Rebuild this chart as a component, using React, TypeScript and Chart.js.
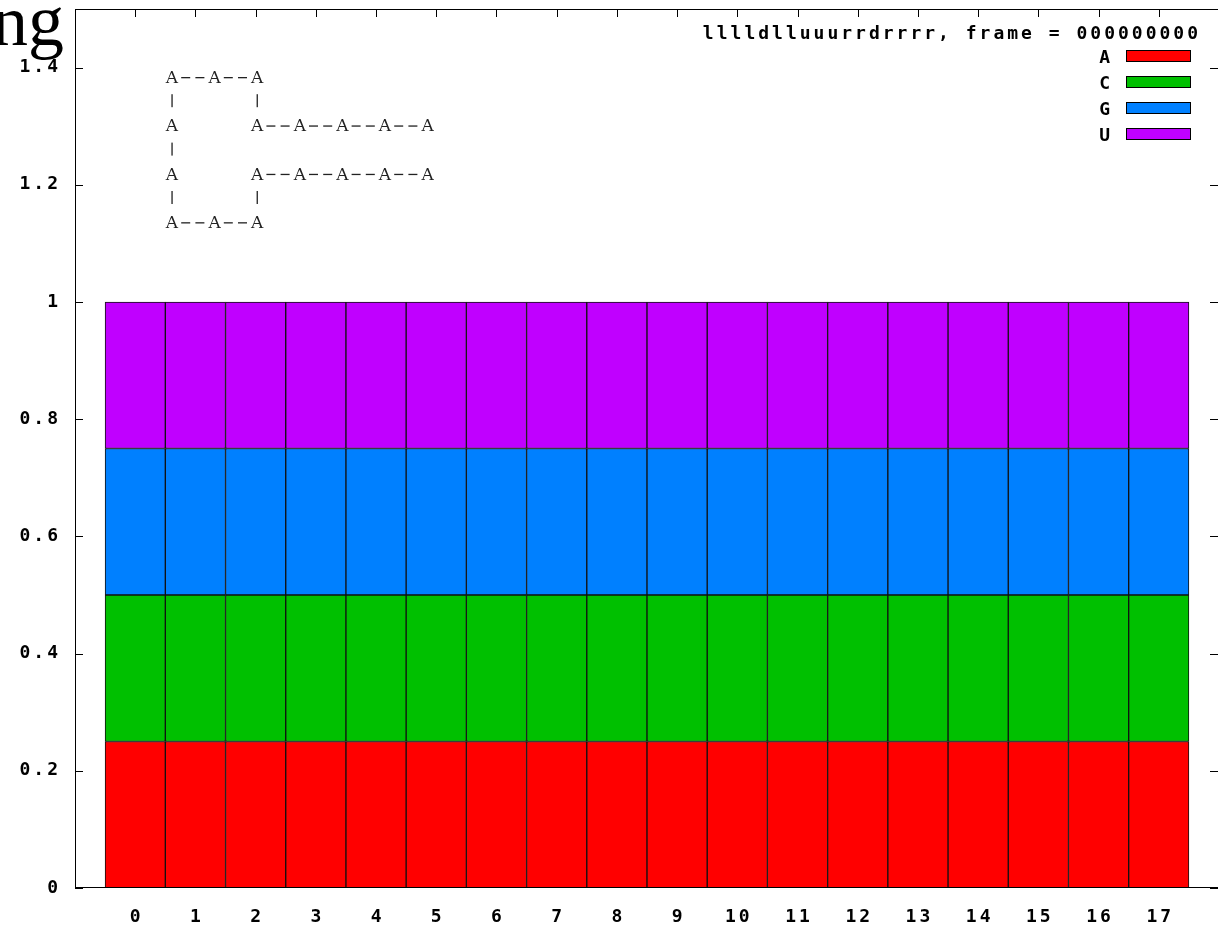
import { useEffect, useRef } from 'react';
import { Chart, registerables } from 'chart.js';

Chart.register(...registerables);

// ---- data ----
const positions = [0, 1, 2, 3, 4, 5, 6, 7, 8, 9, 10, 11, 12, 13, 14, 15, 16, 17];
const seriesNames = ['A', 'C', 'G', 'U'];
const valuesA = [0.25, 0.25, 0.25, 0.25, 0.25, 0.25, 0.25, 0.25, 0.25, 0.25, 0.25, 0.25, 0.25, 0.25, 0.25, 0.25, 0.25, 0.25];
const valuesC = [0.25, 0.25, 0.25, 0.25, 0.25, 0.25, 0.25, 0.25, 0.25, 0.25, 0.25, 0.25, 0.25, 0.25, 0.25, 0.25, 0.25, 0.25];
const valuesG = [0.25, 0.25, 0.25, 0.25, 0.25, 0.25, 0.25, 0.25, 0.25, 0.25, 0.25, 0.25, 0.25, 0.25, 0.25, 0.25, 0.25, 0.25];
const valuesU = [0.25, 0.25, 0.25, 0.25, 0.25, 0.25, 0.25, 0.25, 0.25, 0.25, 0.25, 0.25, 0.25, 0.25, 0.25, 0.25, 0.25, 0.25];
const seriesColors = ['#ff0000', '#00c000', '#0080ff', '#c000ff'];
const yTickValues = [0, 0.2, 0.4, 0.6, 0.8, 1, 1.2, 1.4];
const xRange = [-1, 18];
const yRange = [0, 1.5];
const legendTitle = 'lllldlluuurrdrrrr, frame = 000000000';
const structureLines = [
  'A--A--A',
  '|     |',
  'A     A--A--A--A--A',
  '|',
  'A     A--A--A--A--A',
  '|     |',
  'A--A--A',
];
const headerText = 'ng';

const seriesValues = [valuesA, valuesC, valuesG, valuesU];

const MONO = '"DejaVu Sans Mono", monospace';
const SPACING = 3;

const gnuplotPlugin = {
  id: 'gnuplotLook',
  beforeDraw(chart: any) {
    (chart.ctx as any).letterSpacing = SPACING + 'px';
  },
  beforeDatasetsDraw(chart: any) {
    const ctx = chart.ctx as CanvasRenderingContext2D;
    const { left, right, top, bottom } = chart.chartArea;
    const xs = chart.scales.x;
    const ys = chart.scales.y;
    ctx.save();
    ctx.strokeStyle = '#000';
    ctx.lineWidth = 1;
    ctx.beginPath();
    for (const v of yTickValues) {
      const y = Math.round(ys.getPixelForValue(v)) + 0.5;
      ctx.moveTo(left, y);
      ctx.lineTo(left + 8, y);
      ctx.moveTo(right - 9, y);
      ctx.lineTo(right, y);
    }
    for (const p of positions) {
      const x = Math.round(xs.getPixelForValue(p)) + 0.5;
      ctx.moveTo(x, top);
      ctx.lineTo(x, top + 8);
      ctx.moveTo(x, bottom - 8);
      ctx.lineTo(x, bottom);
    }
    ctx.stroke();
    ctx.restore();
  },
  afterDraw(chart: any) {
    const ctx = chart.ctx as any;
    const { left, right, top, bottom } = chart.chartArea;
    ctx.save();
    // frame
    ctx.strokeStyle = '#000';
    ctx.lineWidth = 1;
    ctx.strokeRect(left + 0.5, top + 0.5, right - left - 1, bottom - top - 1);

    // structure annotation
    ctx.letterSpacing = '0px';
    ctx.fillStyle = '#222';
    ctx.textAlign = 'center';
    ctx.textBaseline = 'alphabetic';
    const colW = 14.2;
    const rowH = 24.2;
    const x0 = left + 97;
    const y0 = top + 74;
    structureLines.forEach((line, r) => {
      for (let c = 0; c < line.length; c++) {
        const ch = line[c];
        if (ch === ' ') continue;
        if (ch === 'A') {
          ctx.font = '17px "DejaVu Serif", serif';
          ctx.fillText(ch, x0 + c * colW, y0 + r * rowH);
        } else if (ch === '-') {
          ctx.fillRect(x0 + c * colW - 5, y0 + r * rowH - 6, 9, 1.3);
        } else {
          ctx.fillRect(x0 + c * colW - 0.6, y0 + r * rowH - 13, 1.3, 13);
        }
      }
    });

    // legend
    const legendRight = 1218;
    ctx.letterSpacing = SPACING + 'px';
    ctx.font = 'bold 18px ' + MONO;
    ctx.fillStyle = '#000';
    ctx.textAlign = 'right';
    ctx.textBaseline = 'alphabetic';
    ctx.fillText(legendTitle, legendRight - 20 + SPACING, top + 30);
    seriesNames.forEach((name, i) => {
      const cy = top + 47 + i * 26;
      ctx.fillText(name, legendRight - 108 + SPACING, cy + 7);
      ctx.fillStyle = seriesColors[i];
      ctx.fillRect(legendRight - 92, cy - 6, 65, 12);
      ctx.strokeStyle = '#000';
      ctx.lineWidth = 1;
      ctx.strokeRect(legendRight - 92 + 0.5, cy - 6 + 0.5, 64, 11);
      ctx.fillStyle = '#000';
    });

    // header text fragment
    ctx.letterSpacing = '0px';
    ctx.font = '72px "Liberation Serif", serif';
    ctx.textAlign = 'left';
    ctx.fillStyle = '#000';
    ctx.fillText(headerText, -8, 45);
    ctx.restore();
  },
};

export default function App() {
  const ref = useRef<HTMLCanvasElement | null>(null);
  useEffect(() => {
    if (!ref.current) return;
    const tickFont = { family: MONO, weight: 'bold' as const, size: 18 };
    const chart = new Chart(ref.current, {
      type: 'bar',
      data: {
        datasets: seriesNames.map((name, i) => ({
          label: name,
          data: positions.map((p, j) => ({ x: p, y: seriesValues[i][j] })),
          backgroundColor: seriesColors[i],
          borderColor: '#111',
          borderWidth: 1,
          borderSkipped: false,
          barPercentage: 1,
          categoryPercentage: 1,
        })),
      },
      options: {
        responsive: false,
        animation: false,
        layout: { padding: { top: 9, right: 1, left: 0, bottom: 0 } },
        plugins: { legend: { display: false }, tooltip: { enabled: false } },
        scales: {
          x: {
            type: 'linear',
            min: xRange[0],
            max: xRange[1],
            stacked: true,
            offset: false,
            afterBuildTicks: (s: any) => {
              s.ticks = positions.map((v) => ({ value: v }));
            },
            afterFit: (s: any) => {
              s.height = 38;
              s.paddingLeft = 0;
              s.paddingRight = 0;
            },
            grid: { display: false, drawTicks: false },
            border: { display: false },
            ticks: {
              font: tickFont,
              color: '#000',
              padding: 19,
              maxRotation: 0,
              autoSkip: false,
              labelOffset: SPACING / 2,
              callback: (v: any) => String(v),
            },
          },
          y: {
            min: yRange[0],
            max: yRange[1],
            stacked: true,
            afterBuildTicks: (s: any) => {
              s.ticks = yTickValues.map((v) => ({ value: v }));
            },
            afterFit: (s: any) => {
              s.width = 75;
              s.paddingTop = 0;
              s.paddingBottom = 0;
            },
            grid: { display: false, drawTicks: false },
            border: { display: false },
            ticks: {
              font: tickFont,
              color: '#000',
              padding: 14,
              callback: (v: any) => String(v),
            },
          },
        },
      },
      plugins: [gnuplotPlugin],
    });
    return () => chart.destroy();
  }, []);
  return (
    <div style={{ position: 'fixed', left: 0, top: 0, width: 1218, height: 926, overflow: 'hidden', background: '#fff' }}>
      <canvas ref={ref} width={1220} height={926} style={{ display: 'block' }} />
    </div>
  );
}
